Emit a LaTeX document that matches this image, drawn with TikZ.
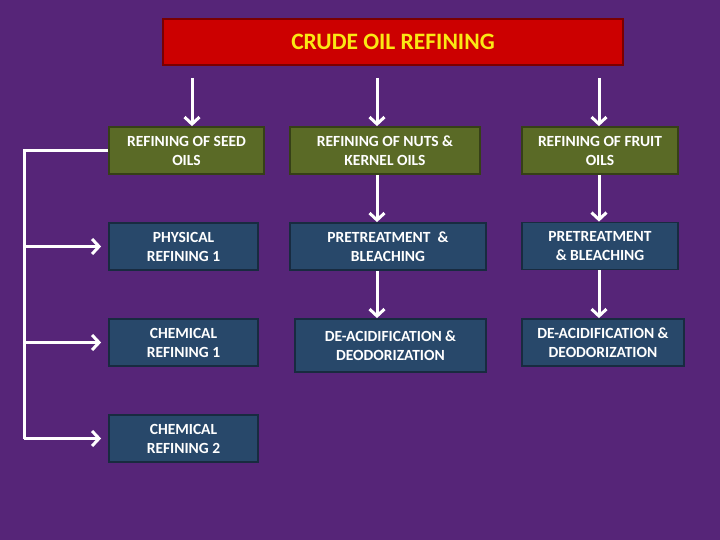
\documentclass[tikz,border=0pt]{standalone}
\usepackage{fontspec}
\setmainfont{Carlito}
\usetikzlibrary{arrows.meta, calc}

\definecolor{bgpurple}{RGB}{86,37,120}
\definecolor{titlered}{RGB}{204,0,0}
\definecolor{titleyellow}{RGB}{250,232,20}
\definecolor{olivebox}{RGB}{90,106,38}
\definecolor{bluebox}{RGB}{40,72,106}

\begin{document}
\begin{tikzpicture}[x=1pt, y=-1pt,
    box/.style={draw=#1!60!black, fill=#1, line width=1.8pt, text=white,
      font=\bfseries\fontsize{15.5}{19}\selectfont, align=center,
      minimum height=47pt, inner sep=2pt},
    arr/.style={draw=white, line width=3pt, -{Straight Barb[length=7pt, width=15pt]}}]
    % background
    \fill[bgpurple] (0,0) rectangle (720,540);
    \useasboundingbox (0,0) rectangle (720,540);

    % title
    \node[draw=titlered!60!black, fill=titlered, line width=2pt, text=titleyellow,
      font=\bfseries\fontsize{23.5}{28}\selectfont,
      minimum width=460pt, minimum height=46pt] (crude) at (393,42) {CRUDE OIL REFINING};

    % first row
    \node[box=olivebox, minimum width=155pt] (seed) at (186.5,150.5) {REFINING OF SEED\\OILS};
    \node[box=olivebox, minimum width=190pt] (nuts) at (385,150.5) {REFINING OF NUTS \&\\KERNEL OILS};
    \node[box=olivebox, minimum width=156pt] (fruit) at (600,150.5) {REFINING OF FRUIT\\OILS};

    % seed oils column
    \node[box=bluebox, minimum width=149pt] (phys) at (183.5,246.5) {PHYSICAL\\REFINING 1};
    \node[box=bluebox, minimum width=149pt] (chemA) at (183.5,342.5) {CHEMICAL\\REFINING 1};
    \node[box=bluebox, minimum width=149pt] (chemB) at (183.5,438.5) {CHEMICAL\\REFINING 2};

    % nuts column
    \node[box=bluebox, minimum width=196pt] (pretA) at (388,246.5) {PRETREATMENT~ \&\\BLEACHING};
    \node[box=bluebox, minimum width=191pt, minimum height=53pt] (deacA) at (390.5,345.5) {DE-ACIDIFICATION \&\\DEODORIZATION};

    % fruit column
    \node[box=bluebox, minimum width=156pt] (pretB) at (600,246) {PRETREATMENT\\\& BLEACHING};
    \node[box=bluebox, minimum width=162pt] (deacB) at (603,342.5) {DE-ACIDIFICATION \&\\DEODORIZATION};

    % arrows from the title
    \coordinate (ts) at (192,78);
    \coordinate (tn) at (377,78);
    \coordinate (tf) at (599,78);
    \draw[arr] (ts) -- (ts |- seed.north);
    \draw[arr] (tn) -- (tn |- nuts.north);
    \draw[arr] (tf) -- (tf |- fruit.north);

    % down the columns
    \draw[arr] (tn |- nuts.south) -- (tn |- pretA.north);
    \draw[arr] (tn |- pretA.south) -- (tn |- deacA.north);
    \draw[arr] (tf |- fruit.south) -- (tf |- pretB.north);
    \draw[arr] (tf |- pretB.south) -- (tf |- deacB.north);

    % bracket on the left
    \coordinate (bus) at (24,150.5);
    \draw[white, line width=3pt] (seed.west) -- (bus) -- (bus |- chemB);
    \foreach \n in {phys, chemA, chemB} {
        \draw[arr, shorten >=7pt] (bus |- \n) -- (\n.west);
    }
\end{tikzpicture}
\end{document}
